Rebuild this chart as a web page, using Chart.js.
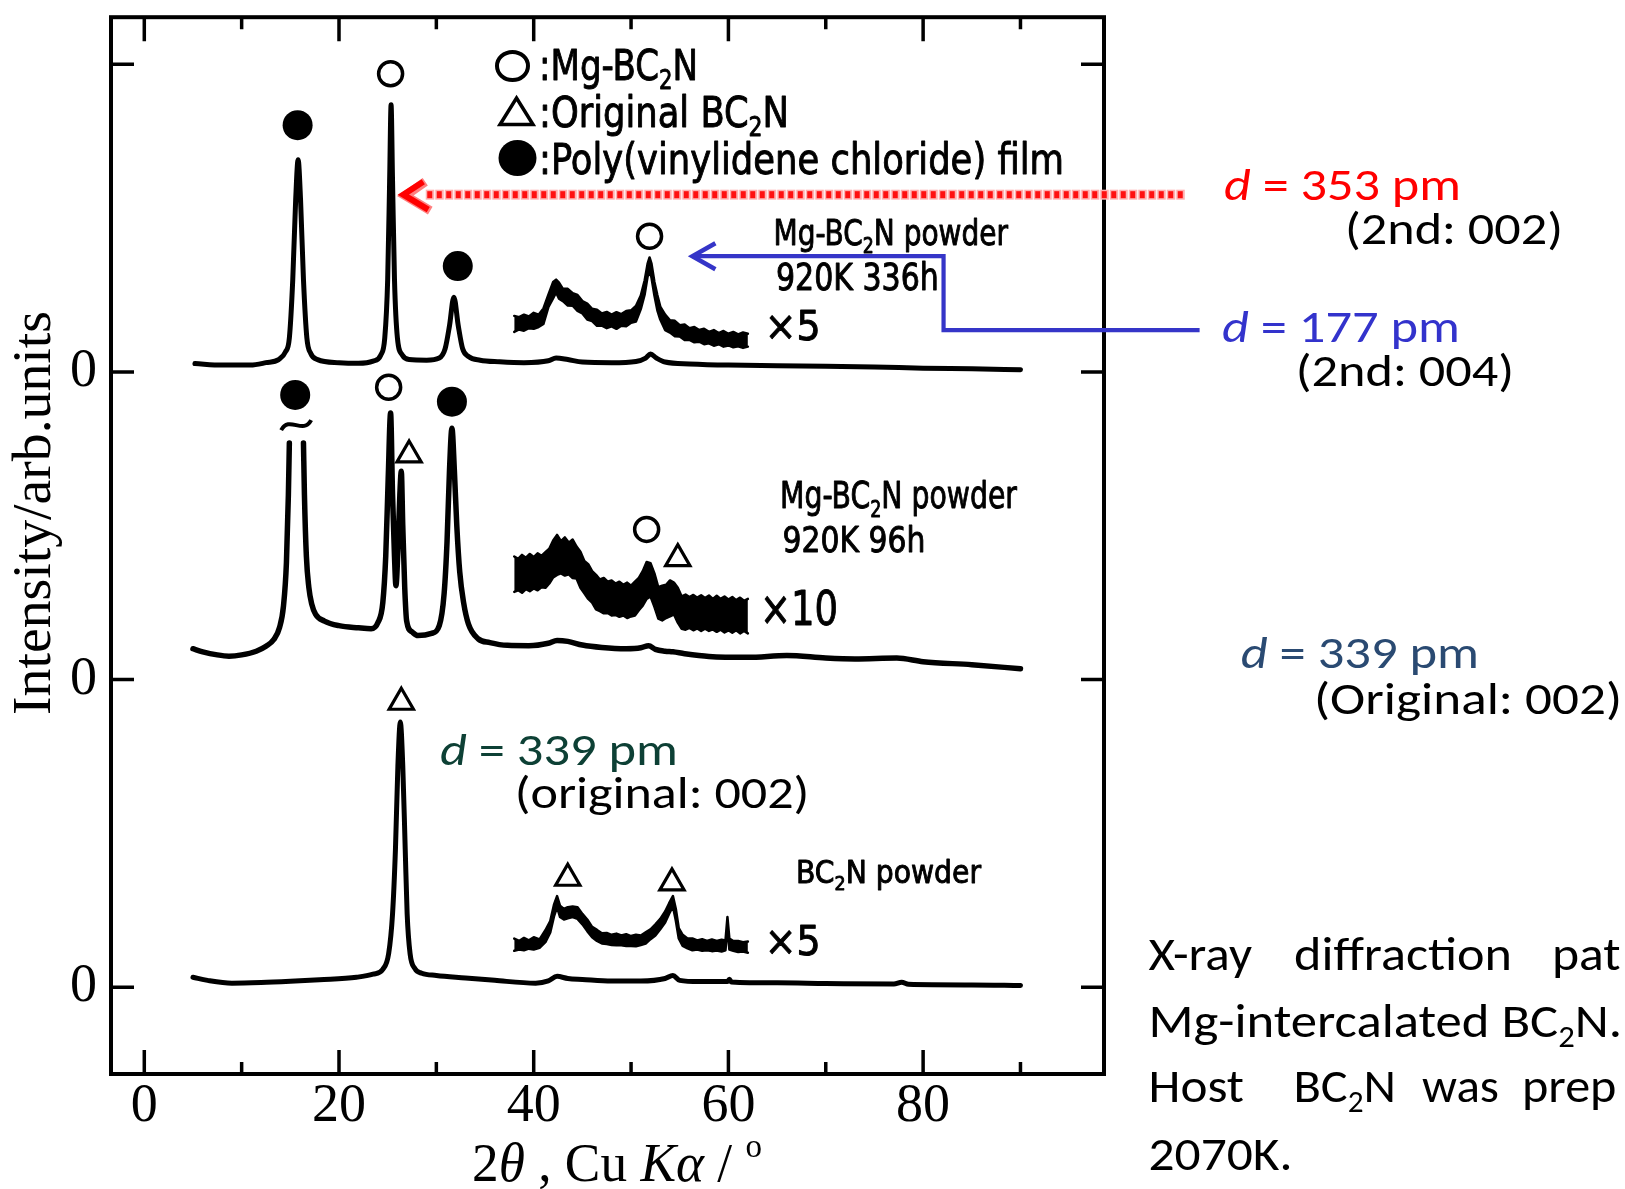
<!DOCTYPE html>
<html><head><meta charset="utf-8">
<script src="https://cdn.jsdelivr.net/npm/chart.js@4.4.1/dist/chart.umd.min.js"></script>
<style>html,body{margin:0;padding:0;background:#fff;overflow:hidden}canvas{display:block}</style>
</head><body>
<canvas id="c" width="1625" height="1189"></canvas>
<script>
// ---------- DATA (2θ in degrees, intensity in offset arbitrary units) ----------
const X_TICKS = [0,10,20,30,40,50,60,70,80,90];
const X_LABELS = [0,20,40,60,80];
const Y_TICKS = [0,1,2,3];
const Y_ZERO_LINES = [0,1,2];

// Mg-BC2N powder 920K 336h (offset 2)
const TOP_X = [5.2,8,10.9,12.5,13.8,14.5,14.9,15.25,15.55,15.8,16.05,16.35,16.7,17.1,17.8,20,22,23.5,24.3,24.7,25.0,25.2,25.35,25.5,25.7,26.0,26.5,27.2,29,30.3,30.9,31.35,31.8,32.25,32.7,33.3,34.5,36.5,39,41.5,42.3,43.5,45,48,50.5,51.5,52.0,52.6,53.5,56,60,65,70,75,80,85,90];
const TOP_Y = [2.027,2.022,2.022,2.030,2.040,2.065,2.110,2.300,2.560,2.690,2.560,2.300,2.110,2.060,2.040,2.030,2.028,2.035,2.055,2.110,2.300,2.620,2.868,2.620,2.300,2.110,2.055,2.040,2.038,2.045,2.075,2.150,2.243,2.150,2.075,2.050,2.038,2.033,2.030,2.036,2.045,2.040,2.032,2.030,2.034,2.045,2.058,2.045,2.032,2.026,2.022,2.020,2.018,2.016,2.012,2.010,2.007];
// ×5 magnified segment: noisy band, upper / lower envelope
const TOP5_X = [38.0,38.5,39.0,39.5,40.0,40.5,41.0,41.5,42.0,42.3,42.6,43.0,43.5,44.0,44.5,45.0,45.5,46.0,46.5,47.0,47.5,48.0,48.5,49.0,49.5,50.0,50.5,51.0,51.4,51.7,51.9,52.1,52.4,52.7,53.0,53.5,54.0,54.5,55.0,55.5,56.0,56.5,57.0,57.5,58.0,58.5,59.0,59.5,60.0,60.5,61.0,61.5,62.0];
const TOP5_HI = [2.182,2.178,2.186,2.180,2.192,2.186,2.206,2.250,2.292,2.300,2.290,2.270,2.270,2.256,2.250,2.230,2.222,2.205,2.202,2.190,2.195,2.186,2.194,2.188,2.198,2.200,2.214,2.248,2.298,2.352,2.372,2.352,2.292,2.250,2.212,2.186,2.168,2.166,2.152,2.154,2.142,2.146,2.136,2.140,2.130,2.136,2.126,2.133,2.124,2.130,2.122,2.128,2.124];
const TOP5_LO = [2.130,2.138,2.134,2.142,2.140,2.146,2.156,2.210,2.240,2.258,2.238,2.230,2.216,2.215,2.198,2.190,2.170,2.165,2.150,2.150,2.142,2.148,2.140,2.150,2.148,2.160,2.164,2.204,2.252,2.310,2.328,2.306,2.248,2.200,2.170,2.136,2.128,2.116,2.115,2.104,2.104,2.096,2.098,2.090,2.093,2.085,2.090,2.082,2.086,2.080,2.083,2.078,2.082];

// Mg-BC2N powder 920K 96h (offset 1), null = broken (off-scale) peak
const MID_X = [5.0,6.0,7.5,8.7,10.0,11.5,12.5,13.3,13.9,14.3,14.6,14.8,14.9,15.6,16.35,16.45,16.65,16.9,17.2,17.6,18.5,20.0,22.0,23.3,24.0,24.5,24.8,25.05,25.3,25.5,25.7,25.85,26.05,26.25,26.4,26.55,26.75,26.95,27.5,28.1,29.5,30.3,30.8,31.1,31.35,31.6,31.85,32.1,32.4,32.8,33.3,34.3,35.5,37.3,39.5,41.5,42.4,43.5,45.0,47.0,49.5,51.0,51.8,52.5,53.5,54.3,55.5,58.0,62.0,66.0,70.0,73.0,77.3,80.0,85.0,90.0];
const MID_Y = [1.100,1.090,1.080,1.076,1.080,1.092,1.108,1.130,1.170,1.240,1.380,1.600,1.769,null,1.769,1.600,1.400,1.300,1.245,1.212,1.190,1.175,1.168,1.165,1.185,1.250,1.400,1.650,1.866,1.600,1.400,1.305,1.420,1.600,1.677,1.500,1.300,1.190,1.155,1.143,1.150,1.175,1.280,1.450,1.680,1.817,1.680,1.500,1.350,1.250,1.180,1.132,1.120,1.111,1.110,1.118,1.127,1.124,1.112,1.104,1.100,1.103,1.110,1.098,1.092,1.090,1.084,1.075,1.072,1.078,1.070,1.067,1.070,1.058,1.048,1.035];
// ×10 magnified segment: noisy band, upper / lower envelope
const MID10_X = [38.0,38.4,38.8,39.2,39.6,40.0,40.4,40.8,41.2,41.6,42.0,42.4,42.8,43.2,43.6,44.0,44.4,44.8,45.2,45.6,46.0,46.4,46.8,47.2,47.6,48.0,48.4,48.8,49.2,49.6,50.0,50.4,50.8,51.2,51.6,52.0,52.4,52.8,53.2,53.6,54.0,54.4,54.8,55.2,55.6,56.0,56.4,56.8,57.2,57.6,58.0,58.4,58.8,59.2,59.6,60.0,60.4,60.8,61.2,61.6,62.0];
const MID10_HI = [1.400,1.392,1.405,1.396,1.408,1.398,1.410,1.402,1.414,1.425,1.452,1.470,1.450,1.462,1.445,1.455,1.432,1.415,1.385,1.375,1.352,1.340,1.325,1.330,1.318,1.322,1.312,1.318,1.308,1.315,1.305,1.318,1.330,1.352,1.382,1.378,1.345,1.300,1.305,1.308,1.322,1.315,1.298,1.270,1.276,1.268,1.275,1.266,1.274,1.265,1.273,1.262,1.272,1.262,1.270,1.260,1.268,1.258,1.266,1.256,1.262];
const MID10_LO = [1.285,1.290,1.282,1.294,1.287,1.296,1.290,1.300,1.298,1.312,1.332,1.340,1.345,1.338,1.342,1.330,1.328,1.298,1.280,1.262,1.250,1.228,1.222,1.215,1.216,1.208,1.210,1.204,1.208,1.200,1.205,1.208,1.225,1.240,1.262,1.270,1.236,1.198,1.192,1.200,1.205,1.212,1.185,1.165,1.162,1.168,1.160,1.166,1.158,1.165,1.158,1.163,1.155,1.162,1.153,1.160,1.152,1.160,1.150,1.158,1.150];

// BC2N powder (offset 0)
const BOT_X = [5.0,6.5,9.0,12.0,15.0,18.0,21.8,23.5,24.5,25.1,25.5,25.8,26.05,26.3,26.55,26.8,27.0,27.3,27.8,28.5,30.0,33.0,36.0,40.2,41.5,42.4,43.5,45.0,48.0,51.0,53.5,54.3,55.0,57.0,59.9,60.1,60.3,65.0,70.0,77.0,77.8,78.5,85.0,90.0];
const BOT_Y = [0.032,0.022,0.013,0.015,0.019,0.024,0.032,0.042,0.058,0.109,0.238,0.450,0.720,0.862,0.720,0.450,0.238,0.109,0.060,0.045,0.038,0.030,0.022,0.013,0.020,0.035,0.028,0.025,0.020,0.020,0.028,0.038,0.022,0.018,0.018,0.026,0.017,0.014,0.012,0.010,0.016,0.009,0.007,0.005];
// ×5 magnified segment: noisy band, upper / lower envelope
const BOT5_X = [38.0,38.5,39.0,39.5,40.0,40.6,41.2,41.7,42.1,42.4,42.7,43.1,43.5,44.0,44.5,45.0,45.5,46.0,46.5,47.0,47.5,48.0,48.5,49.0,49.5,50.0,50.5,51.0,51.5,52.0,52.5,53.0,53.5,53.9,54.3,54.6,54.9,55.3,55.8,56.3,56.8,57.3,57.8,58.3,58.8,59.3,59.7,59.9,60.1,60.5,61.0,61.5,62.0];
const BOT5_HI = [0.158,0.150,0.160,0.152,0.162,0.155,0.185,0.215,0.270,0.296,0.265,0.254,0.260,0.262,0.260,0.238,0.220,0.196,0.186,0.175,0.176,0.170,0.174,0.168,0.172,0.166,0.170,0.168,0.178,0.188,0.204,0.222,0.246,0.272,0.296,0.254,0.192,0.170,0.158,0.158,0.152,0.156,0.150,0.155,0.150,0.154,0.152,0.228,0.158,0.150,0.150,0.146,0.148];
const BOT5_LO = [0.118,0.122,0.120,0.125,0.122,0.128,0.146,0.178,0.232,0.260,0.228,0.220,0.224,0.228,0.222,0.204,0.182,0.162,0.150,0.142,0.140,0.137,0.136,0.136,0.134,0.134,0.133,0.137,0.142,0.156,0.168,0.188,0.210,0.238,0.262,0.216,0.158,0.134,0.126,0.120,0.122,0.118,0.120,0.117,0.119,0.116,0.120,0.196,0.122,0.118,0.114,0.116,0.112];

// Peak markers
const OPEN_X = [25.3,51.9,25.1,51.6];            // ○ Mg-BC2N
const OPEN_Y = [2.969,2.441,1.950,1.488];
const FILLED_X = [15.75,32.2,15.5,31.6];         // ● PVDC film
const FILLED_Y = [2.802,2.344,1.925,1.903];
const TRI_X = [27.2,54.8,26.4,43.5,54.2];        // △ original BC2N
const TRI_Y = [1.730,1.393,0.926,0.354,0.339];

// ---------- helpers ----------
const pts = (xs, ys) => xs.map((x, i) => ({x: x, y: ys[i]}));
const GOTH = "'Liberation Sans Narrow','DejaVu Sans Condensed','Liberation Sans',sans-serif";
const CAL = "Carlito,'Open Sans','Liberation Sans',sans-serif";
const SERIF = "'Liberation Serif','DejaVu Serif',serif";

function fontOf(s, size, fam) {
  const sz = (s.sub || s.sup) ? size * 0.62 : size;
  return (s.it ? 'italic ' : '') + sz.toFixed(1) + 'px ' + fam;
}
function richWidth(ctx, segs, size, fam) {
  let w = 0;
  for (const s of segs) { ctx.font = fontOf(s, size, fam); w += ctx.measureText(s.t).width; }
  return w;
}
function drawRich(ctx, segs, x0, base, size, fam, color, x1, sx, heavy) {
  const w = richWidth(ctx, segs, size, fam);
  const k = (x1 != null) ? (x1 - x0) / w : (sx || 1);
  ctx.save();
  ctx.translate(x0, base); ctx.scale(k, 1);
  ctx.fillStyle = color; ctx.strokeStyle = color; ctx.lineWidth = heavy || 0;
  ctx.lineJoin = 'round';
  ctx.textBaseline = 'alphabetic'; ctx.textAlign = 'left';
  let x = 0;
  for (const s of segs) {
    ctx.font = fontOf(s, size, fam);
    const dy = s.sub ? size * 0.22 : (s.sup ? -size * 0.45 : 0);
    ctx.fillText(s.t, x, dy);
    if (heavy) ctx.strokeText(s.t, x, dy);
    x += ctx.measureText(s.t).width;
  }
  ctx.restore();
  return k;
}
const G = (segs, x0, base, size, x1) => drawRich(chartCtx, segs, x0, base, size, GOTH, '#000', x1, null, 0.9);
let chartCtx = null;
const T = t => [{t: t}];
const BC2N = (pre, post) => [{t: pre + 'BC'}, {t: '2', sub: true}, {t: 'N' + post}];

const deco = {
  id: 'deco',
  afterDatasetsDraw(chart) {
    const ctx = chart.ctx, a = chart.chartArea, xs = chart.scales.x, ys = chart.scales.y;
    ctx.save();
    ctx.strokeStyle = '#000';
    ctx.lineWidth = 4;
    ctx.strokeRect(a.left, a.top, a.right - a.left, a.bottom - a.top);
    ctx.lineWidth = 3.5;
    ctx.beginPath();
    for (const v of X_TICKS) {
      const px = xs.getPixelForValue(v);
      const len = (v % 20 === 0) ? 24 : 12;
      ctx.moveTo(px, a.top); ctx.lineTo(px, a.top + len);
      ctx.moveTo(px, a.bottom); ctx.lineTo(px, a.bottom - len);
    }
    for (const v of Y_TICKS) {
      const py = ys.getPixelForValue(v);
      ctx.moveTo(a.left, py); ctx.lineTo(a.left + 23, py);
      ctx.moveTo(a.right, py); ctx.lineTo(a.right - 23, py);
    }
    ctx.stroke();
    // "~" break mark on the off-scale peak
    const tx = xs.getPixelForValue(15.6), ty = ys.getPixelForValue(1.827);
    ctx.lineWidth = 4;
    ctx.beginPath();
    ctx.moveTo(tx - 15, ty + 5);
    ctx.bezierCurveTo(tx - 7, ty - 10, tx + 7, ty + 10, tx + 15, ty - 5);
    ctx.stroke();
    ctx.restore();
  },
  afterDraw(chart) {
    const ctx = chart.ctx, xs = chart.scales.x, ys = chart.scales.y;
    chartCtx = ctx;
    ctx.save();
    // ---- axis titles ----
    ctx.save();
    ctx.translate(50, 715); ctx.rotate(-Math.PI / 2);
    drawRich(ctx, T('Intensity/arb.units'), 0, 0, 55, SERIF, '#000', 404);
    ctx.restore();
    drawRich(ctx, [{t: '2'}, {t: 'θ', it: true}, {t: ' , Cu '}, {t: 'K', it: true}, {t: 'α', it: true}, {t: ' / '}, {t: 'o', sup: true}],
      472, 1181, 54, SERIF, '#000', 762);

    // ---- legend ----
    ctx.strokeStyle = '#000'; ctx.fillStyle = '#000';
    ctx.lineWidth = 4;
    ctx.beginPath(); ctx.ellipse(512.5, 66, 15.5, 14, 0, 0, Math.PI * 2); ctx.stroke();
    ctx.lineWidth = 3.5;
    ctx.beginPath(); ctx.moveTo(516.5, 98); ctx.lineTo(533, 124.5); ctx.lineTo(500, 124.5); ctx.closePath(); ctx.stroke();
    ctx.beginPath(); ctx.ellipse(517.5, 158, 19, 18, 0, 0, Math.PI * 2); ctx.fill();
    G(BC2N(':Mg-', ''), 539, 80, 43, 698);
    G(BC2N(':Original ', ''), 539, 126.5, 43, 789);
    G(T(':Poly(vinylidene chloride) film'), 539, 174, 43, 1064);

    // ---- sample labels ----
    G(BC2N('Mg-', ' powder'), 773.6, 245, 35, 1008);
    G(T('920K 336h'), 776, 290, 37, 938.8);
    G(T('×5'), 764.7, 340, 40, 820.5);
    G(BC2N('Mg-', ' powder'), 780, 508.3, 38, 1017);
    G(T('920K 96h'), 782.6, 551.7, 36, 925.4);
    G(T('×10'), 760, 625, 48, 838);
    G(BC2N('', ' powder'), 796, 883.3, 32, 981);
    G(T('×5'), 764.7, 955, 40, 820.5);

    // ---- d-spacing annotations ----
    const dseg = v => [{t: 'd', it: true}, {t: ' = ' + v + ' pm'}];
    drawRich(ctx, dseg('339'), 440, 765, 45, CAL, '#0d4035', 678);
    drawRich(ctx, T('(original: 002)'), 514.7, 808, 45, CAL, '#000', 809.4);
    drawRich(ctx, dseg('353'), 1224, 200, 45, CAL, '#ff0000', 1461);
    drawRich(ctx, T('(2nd: 002)'), 1345, 244, 45, CAL, '#000', 1563);
    drawRich(ctx, dseg('177'), 1222, 341.7, 45, CAL, '#3333cc', 1460);
    drawRich(ctx, T('(2nd: 004)'), 1295.7, 386, 45, CAL, '#000', 1514);
    drawRich(ctx, dseg('339'), 1240.7, 668.3, 45, CAL, '#2a4a72', 1479);
    drawRich(ctx, T('(Original: 002)'), 1314, 714, 45, CAL, '#000', 1622);

    // ---- caption ----
    const capSize = 48;
    const lines = [
      {b: 970, w: [[T('X-ray'), 1148.5, 1252], [T('diffraction'), 1294, 1512], [T('pat'), 1552, null]]},
      {b: 1036.7, w: [[BC2N('Mg-intercalated ', '.'), 1148.5, 1622]]},
      {b: 1101.7, w: [[T('Host'), 1148.5, 1244], [BC2N('', ''), 1293.5, 1396], [T('was'), 1422, 1499], [T('prep'), 1522, null]]},
      {b: 1170, w: [[T('2070K.'), 1148.5, 1292.5]]}
    ];
    for (const ln of lines) {
      let ks = [];
      for (const w of ln.w) if (w[2] != null) ks.push(drawRich(ctx, w[0], w[1], ln.b, capSize, CAL, '#000', w[2]));
      const kAvg = ks.reduce((s, v) => s + v, 0) / ks.length;
      for (const w of ln.w) if (w[2] == null) drawRich(ctx, w[0], w[1], ln.b, capSize, CAL, '#000', null, kAvg);
    }

    // ---- red dotted arrow (d = 353 pm -> 002 peak) ----
    const ry = ys.getPixelForValue(2.576);
    const rTip = xs.getPixelForValue(26.6), rEnd = xs.getPixelForValue(106.3);
    for (let x = rTip + 24; x < rEnd; x += 9.5) {
      ctx.fillStyle = '#ffb0b0'; ctx.fillRect(x - 1.5, ry - 5, 8.5, 10);
      ctx.fillStyle = '#ff1010'; ctx.fillRect(x, ry - 3.5, 5, 7);
    }
    ctx.strokeStyle = '#ff8080'; ctx.lineWidth = 9; ctx.lineJoin = 'miter';
    ctx.beginPath(); ctx.moveTo(rTip + 22, ry - 13); ctx.lineTo(rTip + 2, ry + 1); ctx.lineTo(rTip + 27, ry + 16); ctx.stroke();
    ctx.strokeStyle = '#ff0000'; ctx.lineWidth = 6;
    ctx.beginPath(); ctx.moveTo(rTip + 20, ry - 13); ctx.lineTo(rTip, ry); ctx.lineTo(rTip + 25, ry + 15); ctx.stroke();

    // ---- blue elbow arrow (d = 177 pm -> 004 peak) ----
    const bTipX = xs.getPixelForValue(56.3), bY1 = ys.getPixelForValue(2.376);
    const bCx = xs.getPixelForValue(82.1), bY2 = ys.getPixelForValue(2.136), bEnd = xs.getPixelForValue(108.4);
    ctx.strokeStyle = '#3535c8'; ctx.lineWidth = 4.2; ctx.lineJoin = 'miter';
    ctx.beginPath(); ctx.moveTo(bEnd, bY2); ctx.lineTo(bCx, bY2); ctx.lineTo(bCx, bY1); ctx.lineTo(bTipX, bY1); ctx.stroke();
    ctx.lineWidth = 4.5;
    ctx.beginPath(); ctx.moveTo(bTipX + 23, bY1 - 13); ctx.lineTo(bTipX, bY1); ctx.lineTo(bTipX + 23, bY1 + 13); ctx.stroke();
    ctx.restore();
  }
};

const trace = (xs, ys, w) => ({
  data: pts(xs, ys), showLine: true, borderColor: '#000', borderWidth: w,
  pointRadius: 0, tension: 0, spanGaps: false, order: 2, borderJoinStyle: 'round', borderCapStyle: 'round'
});
// noisy magnified segment: upper envelope filled down to lower envelope
const bandHi = (xs, ys) => Object.assign(trace(xs, ys, 2.5), {fill: '+1', backgroundColor: '#000'});
const bandLo = (xs, ys) => trace(xs, ys, 2.5);

new Chart(document.getElementById('c'), {
  type: 'scatter',
  data: {
    datasets: [
      Object.assign(trace(TOP_X, TOP_Y, 5), {cubicInterpolationMode: 'monotone'}),
      bandHi(TOP5_X, TOP5_HI),
      bandLo(TOP5_X, TOP5_LO),
      Object.assign(trace(MID_X, MID_Y, 5.5), {cubicInterpolationMode: 'monotone'}),
      bandHi(MID10_X, MID10_HI),
      bandLo(MID10_X, MID10_LO),
      Object.assign(trace(BOT_X, BOT_Y, 5), {cubicInterpolationMode: 'monotone'}),
      bandHi(BOT5_X, BOT5_HI),
      bandLo(BOT5_X, BOT5_LO),
      {data: pts(OPEN_X, OPEN_Y), pointStyle: 'circle', pointRadius: 12, pointBorderWidth: 3.5,
       pointBorderColor: '#000', pointBackgroundColor: '#fff', order: 0},
      {data: pts(FILLED_X, FILLED_Y), pointStyle: 'circle', pointRadius: 15, pointBorderWidth: 0,
       pointBorderColor: '#000', pointBackgroundColor: '#000', order: 0},
      {data: pts(TRI_X, TRI_Y), pointStyle: 'triangle', pointRadius: 14, pointBorderWidth: 3.2,
       pointBorderColor: '#000', pointBackgroundColor: '#fff', order: 0}
    ]
  },
  options: {
    responsive: false, animation: false, devicePixelRatio: 1,
    layout: {padding: {left: 0, top: 12, right: 521, bottom: 0}},
    plugins: {legend: {display: false}, tooltip: {enabled: false}},
    events: [],
    scales: {
      x: {
        type: 'linear', min: -3.42, max: 98.58,
        grid: {display: false, drawTicks: false},
        border: {display: false},
        ticks: {
          autoSkip: false, maxRotation: 0, padding: 0, color: '#000',
          font: {family: SERIF, size: 54},
          callback: v => String(v)
        },
        afterBuildTicks: s => { s.ticks = X_LABELS.map(v => ({value: v})); },
        afterFit: s => { s.height = 115; s.paddingLeft = 0; s.paddingRight = 0; }
      },
      y: {
        type: 'linear', min: -0.2824, max: 3.153,
        grid: {display: false, drawTicks: false},
        border: {display: false},
        ticks: {
          autoSkip: false, padding: 14, color: '#000',
          font: {family: SERIF, size: 54},
          callback: () => '0'
        },
        afterBuildTicks: s => { s.ticks = Y_ZERO_LINES.map(v => ({value: v})); },
        afterFit: s => { s.width = 111; s.paddingTop = 0; s.paddingBottom = 0; }
      }
    }
  },
  plugins: [deco]
});
</script>
</body></html>
